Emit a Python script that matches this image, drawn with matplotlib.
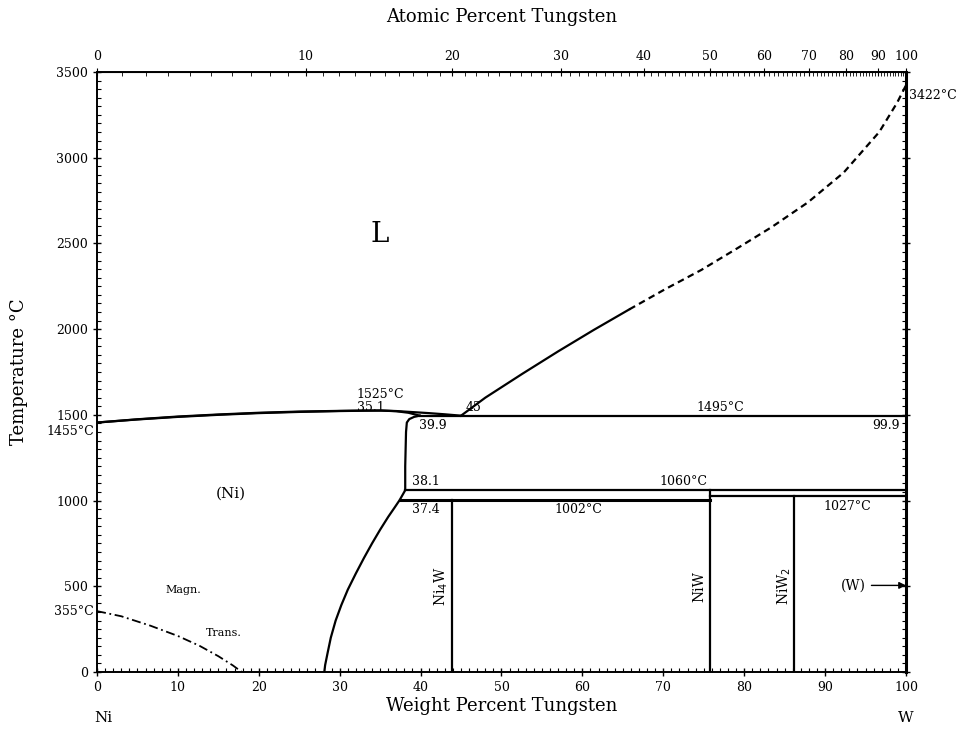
import numpy as np
import matplotlib.pyplot as plt

# composições em % em peso de W, temperaturas em °C
liq_ni_x = [0, 5, 10, 15, 20, 25, 30, 33, 35.1, 37, 39, 41, 43, 45]
liq_ni_t = [1455, 1474, 1490, 1502, 1512, 1519, 1523, 1525, 1525, 1522, 1516, 1510, 1503, 1495]
sol_ni_x = [0, 5, 10, 15, 20, 25, 30, 33, 35.1, 37, 38.5, 39.9]
sol_ni_t = [1455, 1473, 1488, 1500, 1510, 1517, 1522, 1524, 1525, 1521, 1512, 1495]

liq_w_x = [45, 48, 52.6, 57.0, 61.4, 65.8]
liq_w_t = [1495, 1600, 1740, 1870, 1995, 2115]
liq_w_dash_x = [65.8, 70.2, 74.7, 79.1, 83.4, 87.9, 92.3, 96.7, 98.9, 100]
liq_w_dash_t = [2115, 2232, 2345, 2470, 2595, 2740, 2913, 3150, 3320, 3422]

solvus_x = [39.9, 39.2, 38.6, 38.3, 38.2, 38.1, 38.1, 37.4, 36.8, 36.0, 35.0, 34.0, 33.0,
            32.0, 31.0, 30.2, 29.5, 28.9, 28.5, 28.2, 28.1]
solvus_t = [1495, 1488, 1475, 1455, 1400, 1200, 1060, 1002, 960, 905, 830, 750, 665,
            575, 480, 390, 300, 200, 110, 40, 0]

magn_x = [0, 3, 6.6, 10, 12.7, 15, 16.8, 17.9]
magn_t = [355, 325, 270, 210, 152, 92, 38, 0]

# compostos intermetálicos
ni4w_x, ni4w_t = 43.9, 1002
niw_x, niw_t = 75.8, 1060
niw2_x, niw2_t = 86.2, 1027

peritetico_t = 1495
peritetoide1_t = 1060
peritetoide2_t = 1002
peritetoide3_t = 1027

M_NI = 58.69
M_W = 183.84


def wt_para_at(w):
    w = np.clip(np.asarray(w, dtype=float), 0, 100)
    a = w / M_W
    b = (100 - w) / M_NI
    return 100 * a / np.where(a + b == 0, 1, a + b)


def at_para_wt(x):
    x = np.clip(np.asarray(x, dtype=float), 0, 100)
    a = x * M_W
    b = (100 - x) * M_NI
    return 100 * a / np.where(a + b == 0, 1, a + b)


plt.rcParams['font.family'] = ['DejaVu Serif']

fig = plt.figure(figsize=(9.73, 7.32), dpi=100)
ax = fig.add_axes([0.0997, 0.082, 0.8314, 0.8197])

lw = 1.6
ax.plot(liq_ni_x, liq_ni_t, color='black', lw=lw)
ax.plot(sol_ni_x, sol_ni_t, color='black', lw=lw)
ax.plot(liq_w_x, liq_w_t, color='black', lw=lw)
ax.plot(liq_w_dash_x, liq_w_dash_t, color='black', lw=lw, ls=(0, (3, 2)))
ax.plot(solvus_x, solvus_t, color='black', lw=lw)
ax.plot(magn_x, magn_t, color='black', lw=1.3, ls=(0, (5, 2, 1, 2)))

# linhas horizontais
ax.plot([39.9, 100], [peritetico_t, peritetico_t], color='black', lw=lw)
ax.plot([38.1, 100], [peritetoide1_t, peritetoide1_t], color='black', lw=lw)
ax.plot([37.4, niw_x], [peritetoide2_t, peritetoide2_t], color='black', lw=2.2)
ax.plot([niw_x, 100], [peritetoide3_t, peritetoide3_t], color='black', lw=lw)

# compostos
ax.plot([ni4w_x, ni4w_x], [0, ni4w_t], color='black', lw=lw)
ax.plot([niw_x, niw_x], [0, niw_t], color='black', lw=lw)
ax.plot([niw2_x, niw2_x], [0, niw2_t], color='black', lw=lw)

ax.set_xlim(0, 100)
ax.set_ylim(0, 3500)
ax.set_xticks(np.arange(0, 101, 10))
ax.set_xticks(np.arange(0, 101, 1), minor=True)
ax.set_yticks(np.arange(0, 3501, 500))
ax.set_yticks(np.arange(0, 3501, 50), minor=True)
ax.tick_params(axis='both', which='major', direction='inout', length=6, width=1, labelsize=9)
ax.tick_params(axis='both', which='minor', direction='in', length=3, width=0.8)
ax.tick_params(axis='y', which='both', right=True)
ax.tick_params(axis='y', which='major', labelright=False)
for s in ax.spines.values():
    s.set_linewidth(1.4)
ax.spines['right'].set_linewidth(2.2)

ax.set_xlabel('Weight Percent Tungsten', fontsize=13, labelpad=2)
ax.set_ylabel('Temperature °C', fontsize=13, labelpad=20)

top = ax.secondary_xaxis('top', functions=(wt_para_at, at_para_wt))
top.set_xticks(np.arange(0, 101, 10))
top.set_xticks(np.arange(0, 101, 1), minor=True)
top.tick_params(which='major', direction='inout', length=6, labelsize=9)
top.tick_params(which='minor', direction='in', length=3)
top.set_xlabel('Atomic Percent Tungsten', fontsize=13, labelpad=20)

# rótulos
ax.text(35, 2550, 'L', fontsize=20, ha='center', va='center')
ax.text(16.5, 1040, '(Ni)', fontsize=11, ha='center', va='center')
ax.text(35, 1620, '1525°C', fontsize=9, ha='center', va='center')
ax.text(33.8, 1545, '35.1', fontsize=9, ha='center', va='center')
ax.text(46.5, 1545, '45', fontsize=9, ha='center', va='center')
ax.text(41.5, 1440, '39.9', fontsize=9, ha='center', va='center')
ax.text(77, 1545, '1495°C', fontsize=9, ha='center', va='center')
ax.text(97.5, 1440, '99.9', fontsize=9, ha='center', va='center')
ax.text(39.0, 1110, '38.1', fontsize=9, ha='left', va='center')
ax.text(72.5, 1110, '1060°C', fontsize=9, ha='center', va='center')
ax.text(39.0, 950, '37.4', fontsize=9, ha='left', va='center')
ax.text(59.5, 950, '1002°C', fontsize=9, ha='center', va='center')
ax.text(92.8, 965, '1027°C', fontsize=9, ha='center', va='center')
ax.text(42.6, 500, 'Ni$_4$W', fontsize=10, rotation=90, ha='center', va='center')
ax.text(74.5, 500, 'NiW', fontsize=10, rotation=90, ha='center', va='center')
ax.text(84.9, 500, 'NiW$_2$', fontsize=10, rotation=90, ha='center', va='center')
ax.annotate('(W)', xy=(100, 505), xytext=(93.5, 505), fontsize=10, ha='center', va='center',
            arrowprops=dict(arrowstyle='-|>', color='black', lw=1, shrinkA=2, shrinkB=0))
ax.text(8.5, 480, 'Magn.', fontsize=8, ha='left', va='center')
ax.text(13.5, 230, 'Trans.', fontsize=8, ha='left', va='center')

# temperaturas nos eixos
ax.text(-0.4, 355, '355°C', fontsize=9, ha='right', va='center')
ax.text(-0.4, 1440, '1455°C', fontsize=9, ha='right', va='top')
ax.text(100.4, 3360, '3422°C', fontsize=9, ha='left', va='center')

# elementos
ax.text(0.8, -270, 'Ni', fontsize=11, ha='center', va='center')
ax.text(100, -270, 'W', fontsize=11, ha='center', va='center')

fig.savefig('out.png', dpi=100)
